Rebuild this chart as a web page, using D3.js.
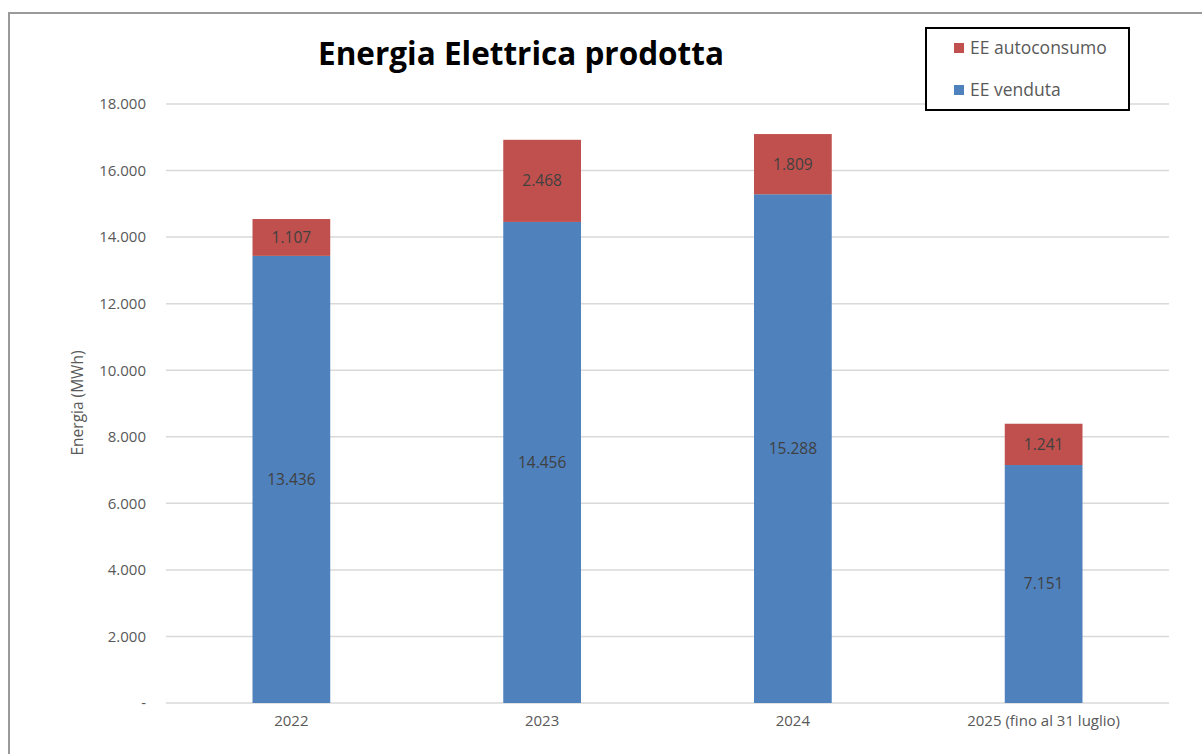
<!DOCTYPE html>
<html>
<head>
<meta charset="utf-8">
<script src="https://cdn.jsdelivr.net/npm/d3@7"></script>
<style>
body{margin:0;background:#fff;}
text{font-family:"Open Sans","Noto Sans",sans-serif;}
</style>
</head>
<body>
<div id="chartplace"></div>
<script>
// dati
var categories = ["2022", "2023", "2024", "2025 (fino al 31 luglio)"];
var venduta = [13436, 14456, 15288, 7151];
var autoconsumo = [1107, 2468, 1809, 1241];
var yTicks = [0, 2000, 4000, 6000, 8000, 10000, 12000, 14000, 16000, 18000];
var seriesNames = ["EE venduta", "EE autoconsumo"];
var colors = ["#4F81BD", "#C0504D"];

var width = 1202, height = 754;
var svg = d3.select("#chartplace").append("svg")
	.attr("width", width).attr("height", height);

// cornice
svg.append("rect")
	.attr("x", 9).attr("y", 13)
	.attr("width", 1220).attr("height", 780)
	.attr("fill", "none").attr("stroke", "#9a9a9a").attr("stroke-width", 2);

var x = d3.scaleBand().domain(categories).range([166, 1169]).paddingInner(0.69).paddingOuter(0.345);
var y = d3.scaleLinear().domain([0, 18000]).range([703, 104]);

var fmt = function(v){
	if(v == 0) return "-";
	return d3.format(",")(v).replace(/,/g, ".");
};

// griglia
svg.append("g").selectAll("line").data(yTicks).enter().append("line")
	.attr("x1", 166).attr("x2", 1169)
	.attr("y1", function(d){ return y(d); }).attr("y2", function(d){ return y(d); })
	.attr("stroke", "#d9d9d9").attr("stroke-width", 1.5);

// asse y
var yAxis = svg.append("g").attr("transform", "translate(149,0)")
	.call(d3.axisLeft(y).tickValues(yTicks).tickSize(0).tickFormat(fmt));
yAxis.select(".domain").remove();
yAxis.selectAll("text").attr("fill", "#595959").attr("font-size", 15)
	.attr("font-family", "'Open Sans', sans-serif");

// asse x
var xAxis = svg.append("g").attr("transform", "translate(0,703)")
	.call(d3.axisBottom(x).tickSize(0).tickPadding(12));
xAxis.select(".domain").remove();
xAxis.selectAll("text").attr("fill", "#595959").attr("font-size", 15)
	.attr("font-family", "'Open Sans', sans-serif");

// barre impilate
var table = categories.map(function(c, i){
	return {cat: c, venduta: venduta[i], autoconsumo: autoconsumo[i]};
});
var stack = d3.stack().keys(["venduta", "autoconsumo"]);
var layers = stack(table);

var g = svg.selectAll(".layer").data(layers).enter().append("g")
	.attr("class", "layer")
	.attr("fill", function(d, i){ return colors[i]; });

g.selectAll("rect").data(function(d){ return d; }).enter().append("rect")
	.attr("x", function(d){ return x(d.data.cat); })
	.attr("y", function(d){ return y(d[1]); })
	.attr("height", function(d){ return y(d[0]) - y(d[1]); })
	.attr("width", x.bandwidth());

g.selectAll("text").data(function(d){ return d; }).enter().append("text")
	.attr("x", function(d){ return x(d.data.cat) + x.bandwidth() / 2; })
	.attr("y", function(d){ return (y(d[0]) + y(d[1])) / 2; })
	.attr("dy", "0.35em")
	.attr("text-anchor", "middle")
	.attr("fill", "#404040")
	.attr("font-size", 15.5)
	.text(function(d){ return fmt(d[1] - d[0]); });

// titolo asse y
svg.append("text")
	.attr("transform", "translate(83,403) rotate(-90)")
	.attr("text-anchor", "middle")
	.attr("fill", "#595959").attr("font-size", 15.5)
	.text("Energia (MWh)");

// titolo
svg.append("text")
	.attr("x", 521).attr("y", 65)
	.attr("text-anchor", "middle")
	.attr("font-size", 31.5).attr("font-weight", "bold").attr("fill", "#000")
	.text("Energia Elettrica prodotta");

// legenda
svg.append("rect")
	.attr("x", 926).attr("y", 28).attr("width", 203).attr("height", 82)
	.attr("fill", "#fff").attr("stroke", "#000").attr("stroke-width", 2);
var legendItems = [
	{name: seriesNames[1], color: colors[1]},
	{name: seriesNames[0], color: colors[0]}
];
var lg = svg.selectAll(".leg").data(legendItems).enter().append("g")
	.attr("class", "leg")
	.attr("transform", function(d, i){ return "translate(954," + (48 + i * 42) + ")"; });
lg.append("rect").attr("x", 0).attr("y", -5).attr("width", 10).attr("height", 10)
	.attr("fill", function(d){ return d.color; });
lg.append("text").attr("x", 16).attr("dy", "0.35em")
	.attr("font-size", 17.5).attr("fill", "#595959")
	.text(function(d){ return d.name; });
</script>
</body>
</html>
